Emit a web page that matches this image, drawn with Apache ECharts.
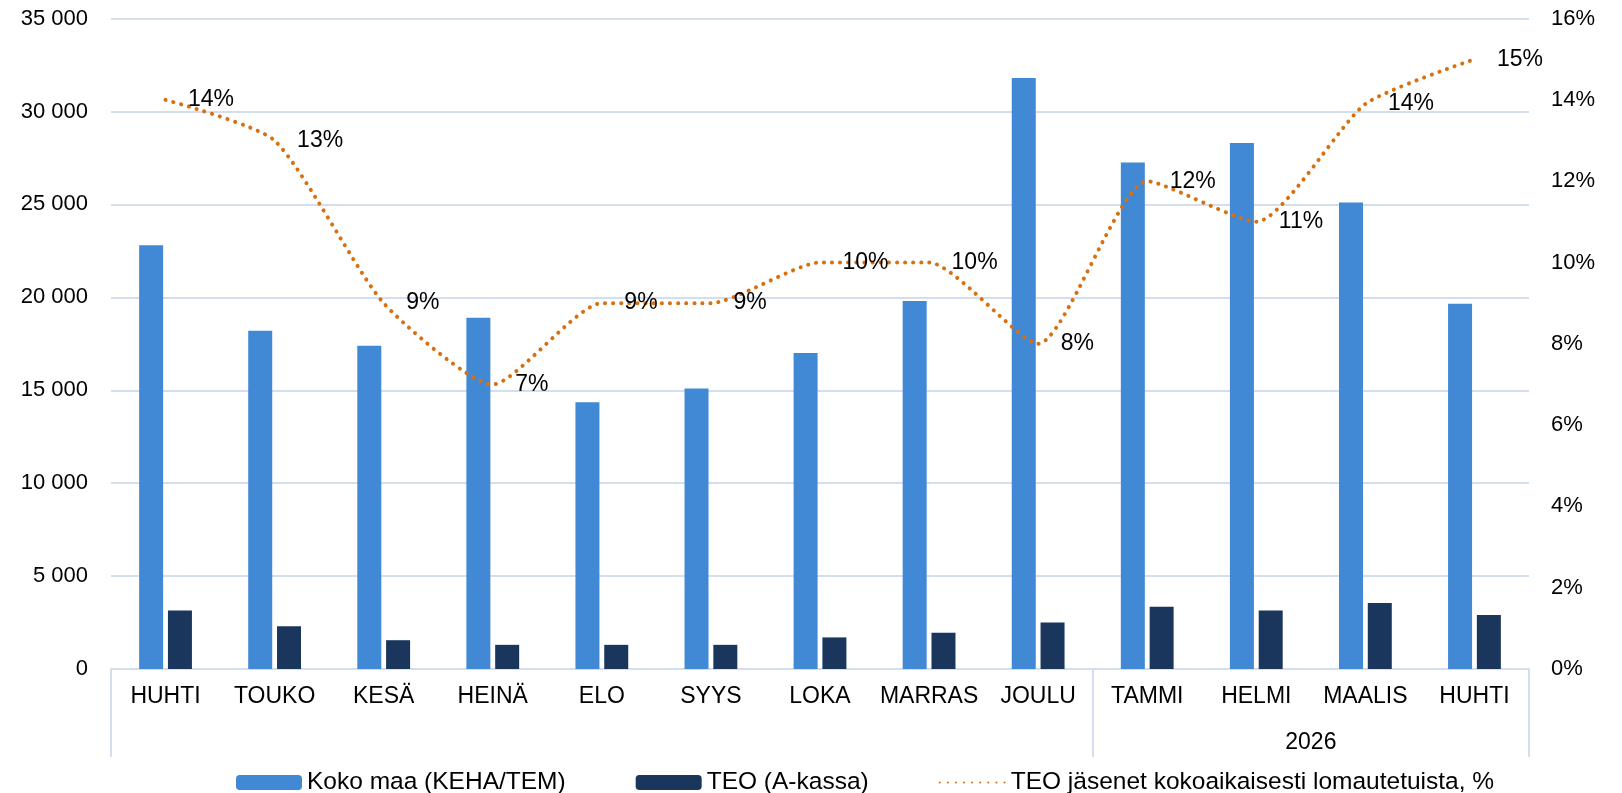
<!DOCTYPE html>
<html>
<head>
<meta charset="utf-8">
<title>Lomautetut</title>
<script src="https://cdn.jsdelivr.net/npm/echarts@6.0.0/dist/echarts.min.js"></script>
<style>
  html, body { margin: 0; padding: 0; background: #fff; }
  #chart { width: 1622px; height: 793px; }
</style>
</head>
<body>
<div id="chart"></div>
<script>
// kuukaudet (huhti 2025 - huhti 2026)
const months = ["HUHTI", "TOUKO", "KESÄ", "HEINÄ", "ELO", "SYYS", "LOKA", "MARRAS", "JOULU", "TAMMI", "HELMI", "MAALIS", "HUHTI"];
// Koko maa (KEHA/TEM)
const kokoMaa = [22800, 18200, 17400, 18900, 14350, 15100, 17000, 19800, 31800, 27250, 28300, 25100, 19650];
// TEO (A-kassa)
const teoKassa = [3150, 2300, 1550, 1300, 1300, 1300, 1700, 1950, 2500, 3350, 3150, 3550, 2900];
// TEO jäsenet kokoaikaisesti lomautetuista, %
const teoPct = [14, 13, 9, 7, 9, 9, 10, 10, 8, 12, 11, 13.9, 15];
// vuosiryhmät: rajat kategorioina ja nimet
const groupBounds = [0, 9, 13];
const groupNames = ["", "2026"];

const seriesNames = ["Koko maa (KEHA/TEM)", "TEO (A-kassa)", "TEO jäsenet kokoaikaisesti lomautetuista, %"];

const font = "'Liberation Sans', Arial, sans-serif";
const gridColor = "#D3DFEF";

// ryhmänimien paikat = ryhmän keskikohta
const groupMids = groupNames.map((n, i) => (groupBounds[i] + groupBounds[i + 1]) / 2);

const chart = echarts.init(document.getElementById("chart"));
chart.setOption({
  animation: false,
  textStyle: { fontFamily: font },
  color: ["#4189D5", "#1B365D", "#D8700F"],
  legend: {
    data: seriesNames,
    left: 231,
    top: 765,
    itemWidth: 66,
    itemHeight: 15,
    itemGap: 70,
    textStyle: { fontSize: 24.5, color: "#000", fontFamily: font }
  },
  grid: {
    left: 111,
    right: 93,
    top: 18.6,
    bottom: 124,
    outerBoundsMode: "none"
  },
  xAxis: [
    {
      type: "category",
      data: months,
      axisLine: { lineStyle: { color: gridColor, width: 2 } },
      axisTick: { show: false },
      axisLabel: { color: "#000", fontSize: 23, margin: 16, interval: 0 }
    },
    {
      // ryhmäsulkeet ja vuosi
      type: "value",
      position: "bottom",
      min: 0,
      max: months.length,
      axisLine: { show: false },
      splitLine: { show: false },
      axisTick: {
        show: true,
        customValues: groupBounds,
        length: 88,
        lineStyle: { color: gridColor, width: 2 }
      },
      axisLabel: {
        customValues: groupMids,
        color: "#000",
        fontSize: 23,
        margin: 62,
        formatter: (v) => {
          const i = groupMids.indexOf(v);
          return i >= 0 ? groupNames[i] : "";
        }
      }
    }
  ],
  yAxis: [
    {
      type: "value",
      min: 0,
      max: 35000,
      interval: 5000,
      axisLine: { show: false },
      axisTick: { show: false },
      splitLine: { lineStyle: { color: gridColor, width: 2 } },
      axisLabel: {
        color: "#000",
        fontSize: 22,
        margin: 23,
        formatter: (v) => String(v).replace(/\B(?=(\d{3})+(?!\d))/g, " ")
      }
    },
    {
      type: "value",
      min: 0,
      max: 16,
      interval: 2,
      axisLine: { show: false },
      axisTick: { show: false },
      splitLine: { show: false },
      axisLabel: {
        color: "#000",
        fontSize: 22,
        margin: 22,
        align: "left",
        formatter: "{value}%"
      }
    }
  ],
  series: [
    {
      name: seriesNames[0],
      type: "bar",
      data: kokoMaa,
      barWidth: 24,
      barGap: "20%"
    },
    {
      name: seriesNames[1],
      type: "bar",
      data: teoKassa,
      barWidth: 24,
      barGap: "20%"
    },
    {
      name: seriesNames[2],
      type: "line",
      yAxisIndex: 1,
      data: teoPct,
      symbol: "circle",
      symbolSize: 1,
      showSymbol: true,
      itemStyle: { color: "rgba(0,0,0,0)" },
      smooth: 0.2,
      lineStyle: { color: "#D8700F", width: 4, type: [0.1, 8], cap: "round" },
      label: {
        show: true,
        position: "right",
        distance: 22,
        color: "#000",
        fontSize: 23,
        formatter: (p) => Math.round(p.value) + "%"
      },
      z: 5
    }
  ]
});
</script>
</body>
</html>
